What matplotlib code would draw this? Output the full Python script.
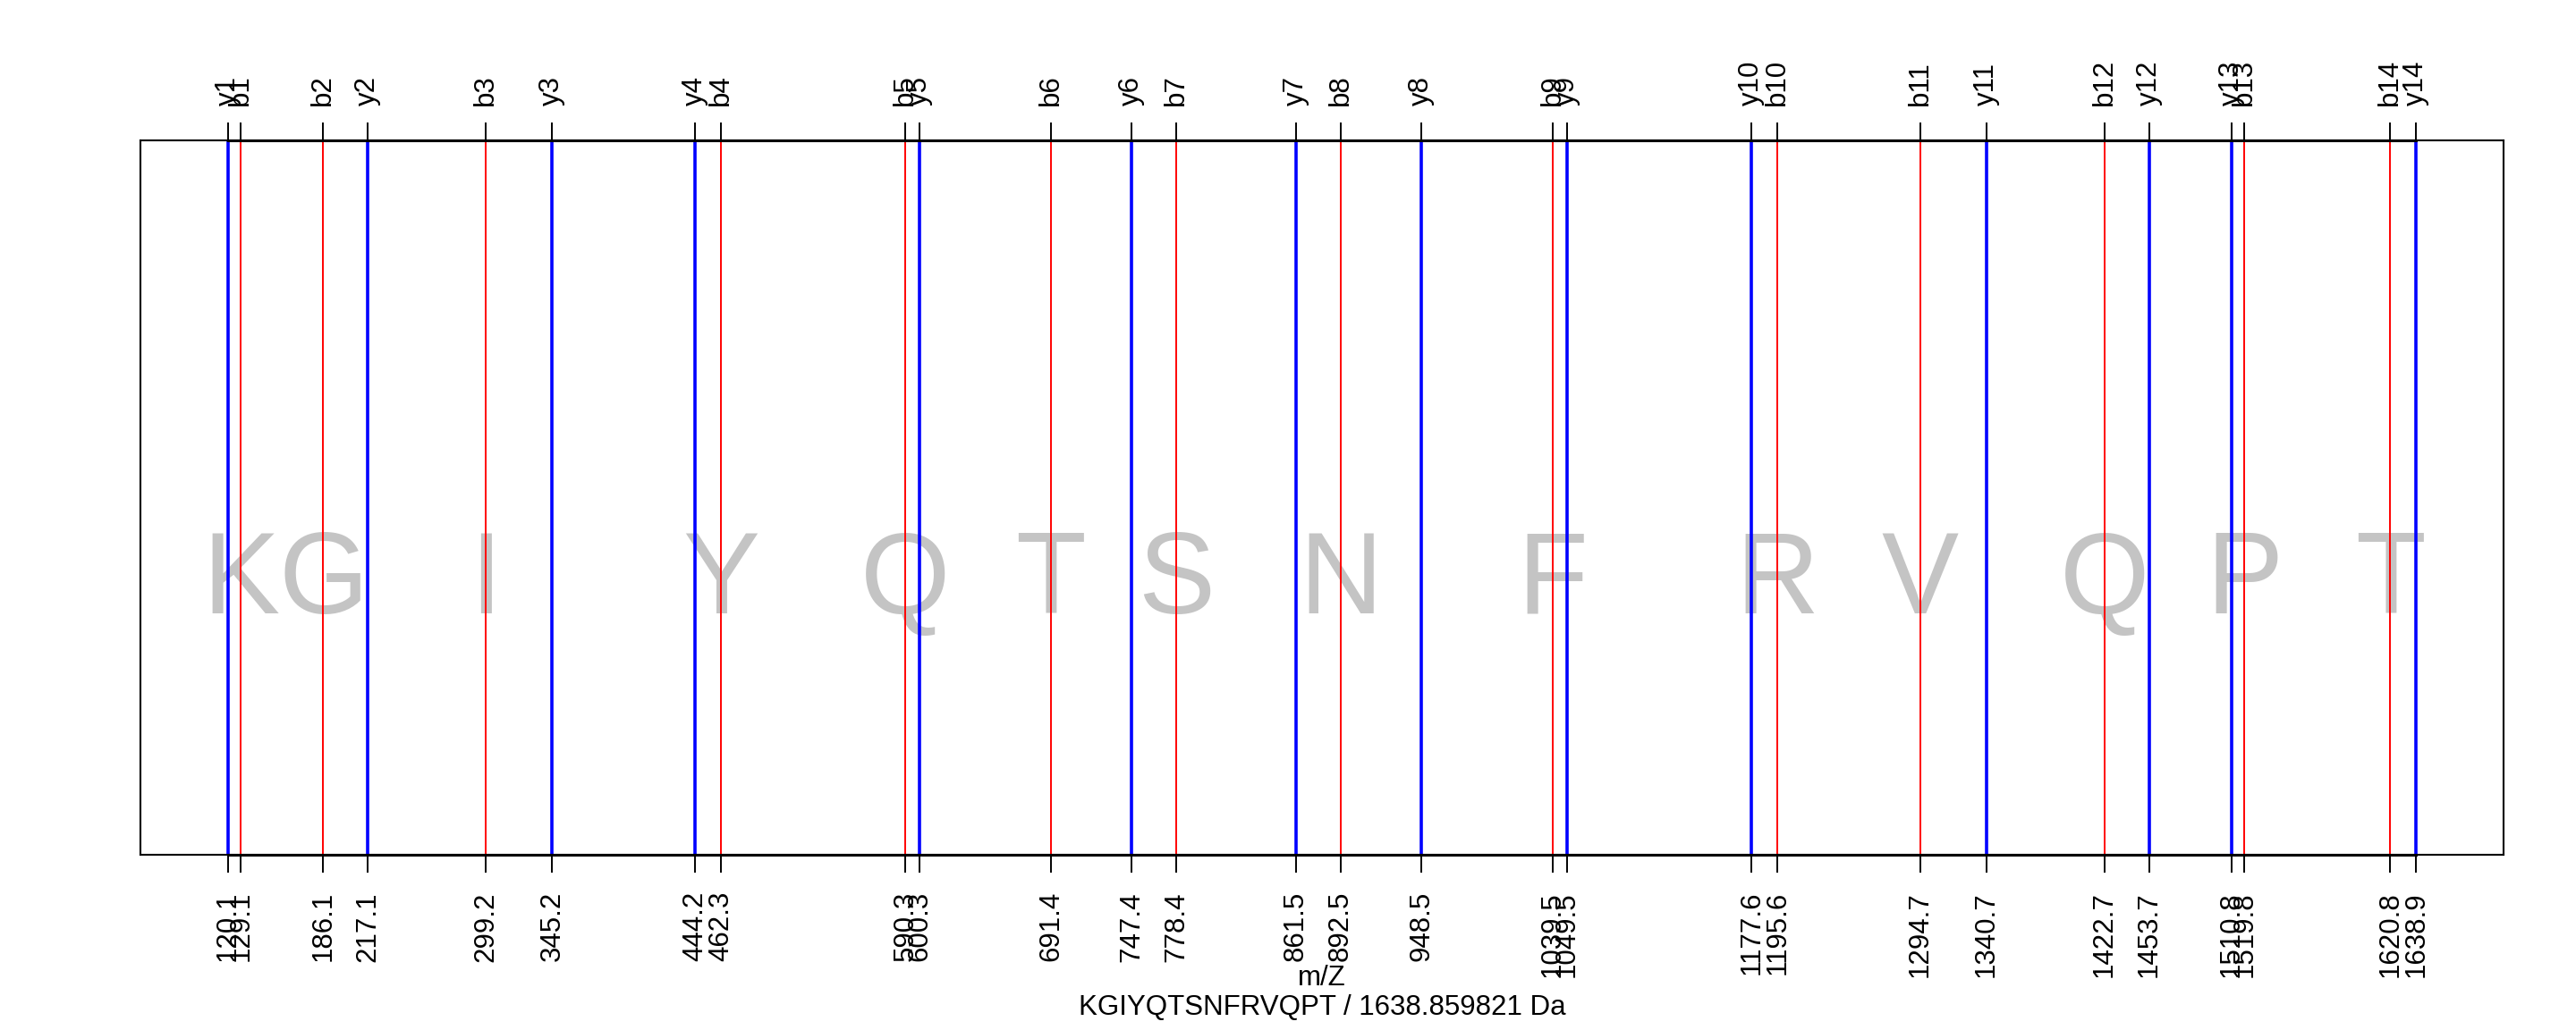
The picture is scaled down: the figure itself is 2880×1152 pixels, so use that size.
import matplotlib
matplotlib.use("Agg")
import matplotlib.pyplot as plt
import matplotlib.transforms as mtransforms
import numpy as np

plt.rcParams['font.family'] = ['Liberation Sans', 'DejaVu Sans']

peptide = "KGIYQTSNFRVQPT"
peptide_mass = "1638.859821"
b_names = [f"b{i}" for i in range(1, 15)]
y_names = [f"y{i}" for i in range(1, 15)]
b_mz = [129.1022, 186.1237, 299.2078, 462.2711, 590.3297, 691.3773, 778.4094,
        892.4523, 1039.5207, 1195.6218, 1294.6902, 1422.7488, 1519.8016, 1620.8493]
y_mz = [120.0655, 217.1183, 345.1769, 444.2453, 600.3464, 747.4148, 861.4577,
        948.4898, 1049.5374, 1177.5960, 1340.6593, 1453.7434, 1510.7649, 1638.8598]
xlabel = "m/Z"

W, H = 2880, 1152
fig = plt.figure(figsize=(W / 100, H / 100), dpi=100)
L, R, T, B = 157, 2799, 157, 956
ax = fig.add_axes([L / W, 1 - B / H, (R - L) / W, (B - T) / H])

allmz = np.array(b_mz + y_mz)
lo, hi = allmz.min(), allmz.max()
rng = hi - lo
ax.set_xlim(lo - 0.04 * rng, hi + 0.04 * rng)
ax.set_ylim(0, 1)

# sequence letters at b-ion positions
for letter, x in zip(peptide, b_mz):
    ax.text(x, 0.338, letter, ha='center', va='baseline', fontsize=93,
            color='#C4C4C4', zorder=1)

# ion lines
for x in b_mz:
    ax.axvline(x, color='#FF0000', lw=1.4, zorder=2)
for x in y_mz:
    ax.axvline(x, color='#0000FF', lw=2.6, zorder=2)

for s in ax.spines.values():
    s.set_linewidth(1.5)
    s.set_color('black')
    s.set_zorder(3)

ax.set_yticks([])
ax.set_xticks(list(allmz))
ax.tick_params(axis='x', direction='out', length=14.4, width=1.4,
               top=True, bottom=True, labelbottom=False, labeltop=False)

# axis lines between outermost ticks (thicker overlay)
tr_top = mtransforms.blended_transform_factory(ax.transData, ax.transAxes)
ax.plot([lo, hi], [1, 1], color='black', lw=2.2, transform=tr_top, clip_on=False, zorder=4)
ax.plot([lo, hi], [0, 0], color='black', lw=2.2, transform=tr_top, clip_on=False, zorder=4)

tr = mtransforms.blended_transform_factory(ax.transData, fig.transFigure)
fs = 22.5
for name, x in zip(b_names + y_names, b_mz + y_mz):
    ax.text(x, 1 - 118 / H, name, rotation=90, ha='center', va='bottom',
            fontsize=fs, transform=tr, clip_on=False)
    ax.text(x, 1 - 997 / H, f"{x:.1f}", rotation=90, ha='center', va='top',
            fontsize=fs, transform=tr, clip_on=False)

cx = (L + R) / 2 / W
fig.text(cx, 1 - 1102 / H, xlabel, ha='center', va='baseline', fontsize=fs)
fig.text(cx, 1 - 1135 / H, f"{peptide} / {peptide_mass} Da", ha='center',
         va='baseline', fontsize=fs)

fig.savefig("out.png", dpi=100)
